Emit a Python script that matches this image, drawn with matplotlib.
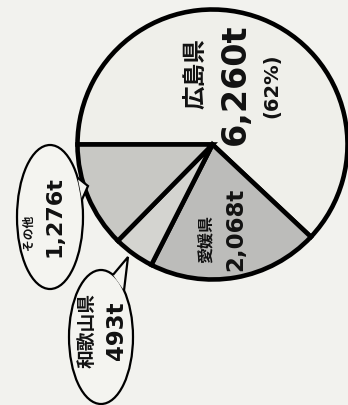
import numpy as np
import matplotlib
matplotlib.use("Agg")
from matplotlib import pyplot as plt
from matplotlib.patches import Ellipse, Polygon

# data: production by prefecture (t)
prefs = ["広島県", "愛媛県", "和歌山県", "その他"]
tons = [6260, 2068, 493, 1276]
colors = ["#efefea", "#bcbcba", "#d4d4d0", "#c8c8c4"]

total = sum(tons)
pct = [round(t / total * 100) for t in tons]

BG = "#f2f2ee"
JP = ["Noto Sans CJK JP", "DejaVu Sans"]
NUM = ["DejaVu Sans"]

fig = plt.figure(figsize=(3.48, 4.05), dpi=100, facecolor=BG)
ax = fig.add_axes([0, 0, 1, 1])

# pie, drawn in pixel units
cx, cy, r = 212.5, 144.5, 135
ax.pie(tons, colors=colors, startangle=180, counterclock=True,
       center=(cx, cy), radius=r, frame=True,
       wedgeprops=dict(edgecolor="black", linewidth=3.3, joinstyle="miter"))
ax.set_xlim(0, 348)
ax.set_ylim(405, 0)   # pixel coords, y down
ax.set_aspect("equal")
ax.axis("off")


def bubble(ex, ey, w, h, base1, base2, tip):
    # speech bubble: ellipse plus a small pointed tail
    ax.add_patch(Ellipse((ex, ey), w, h, facecolor="#f4f4f0",
                         edgecolor="black", linewidth=1.6, zorder=3))
    ax.add_patch(Polygon([base1, tip, base2], closed=False, facecolor="#f4f4f0",
                         edgecolor="black", linewidth=1.6, zorder=4))


def on_ellipse(ex, ey, w, h, deg):
    t = np.radians(deg)
    return (ex + w / 2 * np.cos(t), ey - h / 2 * np.sin(t))


# その他 bubble
e1 = (50, 217, 66, 144)
bubble(*e1, on_ellipse(*e1, 33), on_ellipse(*e1, 14), (88, 186))
# 和歌山県 bubble
e2 = (101, 337, 64, 134)
bubble(*e2, on_ellipse(*e2, 68), on_ellipse(*e2, 44), (128, 257))

kw = dict(rotation=90, ha="center", va="center", fontweight="bold",
          color="#111111", zorder=5)

# 広島県
ax.text(195, 74, prefs[0], family=JP, fontsize=17, **kw)
ax.text(235, 84, f"{tons[0]:,}t", family=NUM, fontsize=24, **kw)
ax.text(272, 86, f"({pct[0]}%)", family=NUM, fontsize=14, **kw)

# 愛媛県
ax.text(207, 239, prefs[1], family=JP, fontsize=11.5, **kw)
ax.text(236, 229, f"{tons[1]:,}t", family=NUM, fontsize=16.5, **kw)

# 和歌山県
ax.text(87, 331, prefs[2], family=JP, fontsize=13.5, **kw)
ax.text(116, 331, f"{tons[2]:,}t", family=NUM, fontsize=16.5, **kw)

# その他
ax.text(28, 232, prefs[3], family=JP, fontsize=8.5, **kw)
ax.text(55, 217, f"{tons[3]:,}t", family=NUM, fontsize=16, **kw)

fig.savefig("out.png", dpi=100, facecolor=BG)
